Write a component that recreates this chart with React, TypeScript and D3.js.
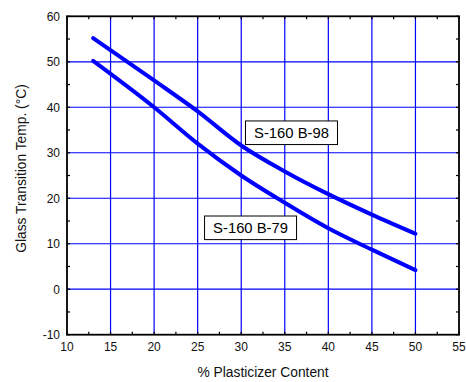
import React from "react";
import * as d3 from "d3";

const xTicks = [10, 15, 20, 25, 30, 35, 40, 45, 50, 55];
const yTicks = [-10, 0, 10, 20, 30, 40, 50, 60];
const xGrid = [15, 20, 25, 30, 35, 40, 45, 50];
const yGrid = [0, 10, 20, 30, 40, 50];

const b98X = [13, 20, 25, 30, 35, 40, 45, 50];
const b98Y = [55.2, 45.9, 39.1, 31.6, 25.9, 20.9, 16.4, 12.2];
const b79X = [13, 20, 25, 30, 35, 40, 45, 50];
const b79Y = [50.2, 40.0, 32.0, 25.0, 19.0, 13.4, 8.7, 4.2];

const labels = ["S-160 B-98", "S-160 B-79"];
const labelX = [35.77, 31.07];
const labelY = [34.4, 13.5];

const W = 466;
const H = 382;
const x = d3.scaleLinear().domain([10, 55]).range([67, 459]);
const y = d3.scaleLinear().domain([-10, 60]).range([334.7, 16.3]);

export default function App() {
  const line = d3
    .line<[number, number]>()
    .x((d) => x(d[0]))
    .y((d) => y(d[1]))
    .curve(d3.curveMonotoneX);
  const s1 = b98X.map((v, i) => [v, b98Y[i]] as [number, number]);
  const s2 = b79X.map((v, i) => [v, b79Y[i]] as [number, number]);
  const xMinor = d3.range(10, 55.01, 2.5);
  const yMinor = d3.range(-10, 60.01, 5);
  const font = "Arial, 'Liberation Sans', sans-serif";
  const [x0, x1] = x.range();
  const [y0, y1] = y.range();
  return (
    <svg
      width={W}
      height={H}
      style={{ position: "absolute", left: 0, top: 0, background: "#fff" }}
      fontFamily={font}
    >
      <rect x={0} y={0} width={W} height={H} fill="#fff" />
      {xGrid.map((v) => (
        <line key={"gx" + v} x1={x(v)} x2={x(v)} y1={y1} y2={y0} stroke="#0000ff" strokeWidth={1.2} />
      ))}
      {yGrid.map((v) => (
        <line key={"gy" + v} x1={x0} x2={x1} y1={y(v)} y2={y(v)} stroke="#0000ff" strokeWidth={1.2} />
      ))}
      {xMinor.map((v) => (
        <g key={"tx" + v}>
          <line x1={x(v)} x2={x(v)} y1={y0} y2={y0 - 3} stroke="#000" strokeWidth={1.2} />
          <line x1={x(v)} x2={x(v)} y1={y1} y2={y1 + 3} stroke="#000" strokeWidth={1.2} />
        </g>
      ))}
      {yMinor.map((v) => (
        <g key={"ty" + v}>
          <line x1={x0} x2={x0 + 3} y1={y(v)} y2={y(v)} stroke="#000" strokeWidth={1.2} />
          <line x1={x1} x2={x1 - 3} y1={y(v)} y2={y(v)} stroke="#000" strokeWidth={1.2} />
        </g>
      ))}
      <rect x={x0} y={y1} width={x1 - x0} height={y0 - y1} fill="none" stroke="#000" strokeWidth={1.8} />
      <path d={line(s1) || ""} fill="none" stroke="#0000ff" strokeWidth={4} strokeLinecap="round" />
      <path d={line(s2) || ""} fill="none" stroke="#0000ff" strokeWidth={4} strokeLinecap="round" />
      {labels.map((t, i) => {
        const cx = x(labelX[i]);
        const cy = y(labelY[i]);
        return (
          <g key={t}>
            <rect x={cx - 46} y={cy - 11.8} width={92} height={23.6} fill="#fff" stroke="#000" strokeWidth={1} />
            <text x={cx} y={cy + 5.3} textAnchor="middle" fontSize={14.8} fill="#000">
              {t}
            </text>
          </g>
        );
      })}
      {xTicks.map((v) => (
        <text key={"lx" + v} x={x(v)} y={351} textAnchor="middle" fontSize={12} fill="#111">
          {v}
        </text>
      ))}
      {yTicks.map((v) => (
        <text key={"ly" + v} x={60} y={y(v) + 4.3} textAnchor="end" fontSize={12} fill="#111">
          {v}
        </text>
      ))}
      <text x={(x0 + x1) / 2} y={377} textAnchor="middle" fontSize={13.8} fill="#111">
        % Plasticizer Content
      </text>
      <text
        transform={`translate(26,168.5) rotate(-90)`}
        textAnchor="middle"
        fontSize={13.8}
        fill="#111"
      >
        Glass Transition Temp. (°C)
      </text>
    </svg>
  );
}
